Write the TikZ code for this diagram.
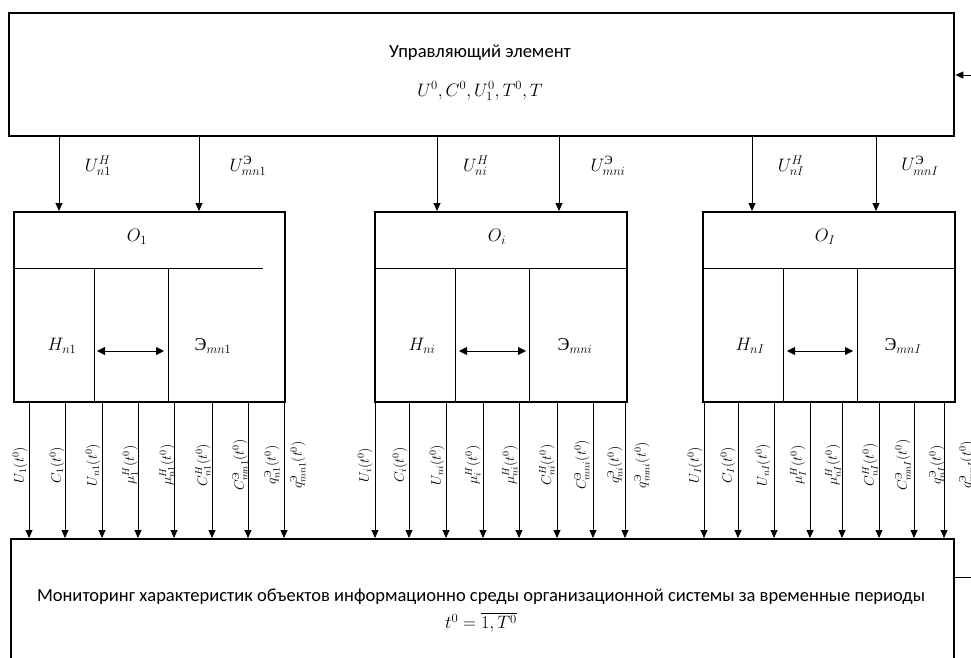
\RequirePackage{fix-cm}
\documentclass[tikz,border=0pt]{standalone}
\usepackage{amsmath}
\usepackage[no-math]{fontspec}
\setmainfont{Carlito}
\newfontfamily\cyrserif{Liberation Serif}
\usetikzlibrary{arrows.meta}
\newcommand{\Ee}{\text{\cyrserif Э}}
\tikzset{
  bigbox/.style={draw, line width=2.4pt, inner sep=0pt, anchor=north west},
  arr/.style={line width=0.9pt, -{Triangle[length=8pt,width=7pt]}},
  dbl/.style={line width=0.9pt, {Triangle[length=8pt,width=8pt]}-{Triangle[length=8pt,width=8pt]}},
  thin/.style={line width=0.9pt},
  lbl/.style={font=\fontsize{18}{21}\selectfont, inner sep=0pt},
  rlbl/.style={rotate=90, font=\fontsize{14}{16}\selectfont, inner sep=0pt},
  ttl/.style={font=\fontsize{18.6}{22}\selectfont, inner sep=0pt},
  ttlb/.style={font=\fontsize{18.5}{22}\selectfont, inner sep=0pt}
}
\begin{document}
\begin{tikzpicture}[x=1pt,y=-1pt]
\useasboundingbox (0,0) rectangle (971,658);
\clip (0,0) rectangle (971,658);

% top control element
\node[bigbox, minimum width=945, minimum height=123] (ctrl) at (8,12) {};
\node[ttl] (ctrlt) at (480,53) {Управляющий элемент};
\node[lbl] (ctrlf) at (480,91) {$U^0,C^0,U_1^0,T^0,T$};
\coordinate (fbin) at (971,75);
\draw[arr] (fbin) -- (fbin -| ctrl.east);

% object boxes
\node[bigbox, minimum width=271, minimum height=190] (o1) at (13,211) {};
\node[bigbox, minimum width=252, minimum height=190] (o2) at (374,211) {};
\node[bigbox, minimum width=252, minimum height=190] (o3) at (702,211) {};

% bottom monitoring box
\node[bigbox, minimum width=943, minimum height=170] (mon) at (10,538) {};
\node[ttlb] (mont) at (481,597) {Мониторинг характеристик объектов информационно среды организационной системы за временные периоды};
\node[lbl] (monf) at (481,622) {$t^0=\overline{1,T^0}$};
\coordinate (fbout) at (971,577);
\draw[thin] (fbout -| mon.east) -- (fbout);

% object internals
% box 1
\draw[thin] (13,268) -- (263,268);
\draw[thin] (94,268) -- (94,401);
\draw[thin] (168,268) -- (168,401);
\node[lbl] (o1t) at (137,237) {$O_1$};
\node[lbl] (h1) at (62,346) {$H_{n1}$};
\node[lbl] (e1) at (213,346) {$\Ee_{mn1}$};
\coordinate (d1a) at (97,351); \coordinate (d1b) at (164,351);
\draw[dbl] (d1a) -- (d1b);
% box 2
\draw[thin] (374,268) -- (626,268);
\draw[thin] (455,268) -- (455,401);
\draw[thin] (529,268) -- (529,401);
\node[lbl] (o2t) at (497,237) {$O_i$};
\node[lbl] (h2) at (422,346) {$H_{ni}$};
\node[lbl] (e2) at (575,346) {$\Ee_{mni}$};
\coordinate (d2a) at (459,351); \coordinate (d2b) at (526,351);
\draw[dbl] (d2a) -- (d2b);
% box 3
\draw[thin] (702,268) -- (954,268);
\draw[thin] (783,268) -- (783,401);
\draw[thin] (857,268) -- (857,401);
\node[lbl] (o3t) at (825,237) {$O_I$};
\node[lbl] (h3) at (750,346) {$H_{nI}$};
\node[lbl] (e3) at (903,346) {$\Ee_{mnI}$};
\coordinate (d3a) at (787,351); \coordinate (d3b) at (853,351);
\draw[dbl] (d3a) -- (d3b);

% control arrows
\foreach \x/\n in {59/o1,199/o1,437/o2,559/o2,752/o3,876/o3}{
  \draw[arr] (ctrl.south -| \x,0) -- (\n.north -| \x,0);
}
\node[lbl] (u1h) at (98,166) {$U_{n1}^{H}$};
\node[lbl] (u1e) at (248,166) {$U_{mn1}^{\Ee}$};
\node[lbl] (u2h) at (476,166) {$U_{ni}^{H}$};
\node[lbl] (u2e) at (608,166) {$U_{mni}^{\Ee}$};
\node[lbl] (u3h) at (791,166) {$U_{nI}^{H}$};
\node[lbl] (u3e) at (920,166) {$U_{mnI}^{\Ee}$};

% output arrows
\foreach \x in {29,65,102,138,174,212,248,284}{
  \draw[arr] (o1.south -| \x,0) -- (mon.north -| \x,0);
}
\foreach \x in {375,409,446,483,519,557,593,625}{
  \draw[arr] (o2.south -| \x,0) -- (mon.north -| \x,0);
}
\foreach \x in {704,738,774,810,842,879,914,944}{
  \draw[arr] (o3.south -| \x,0) -- (mon.north -| \x,0);
}

% output labels
\foreach \x/\t in {20/{U_1(t^0)},57/{C_1(t^0)},93/{U_{n1}(t^0)},130/{\mu_1^H(t^0)},167/{\mu_{n1}^H(t^0)},203/{C_{n1}^H(t^0)},240/{C_{mn1}^{\Ee}(t^0)},272/{q_{n1}^{\Ee}(t^0)},298/{q_{mn1}^{\Ee}(t^0)}}{
  \node[rlbl] at (\x,465) {$\t$};
}
\foreach \x/\t in {365/{U_i(t^0)},400/{C_i(t^0)},437/{U_{ni}(t^0)},473/{\mu_i^H(t^0)},510/{\mu_{ni}^H(t^0)},547/{C_{ni}^H(t^0)},582/{C_{mni}^{\Ee}(t^0)},615/{q_{ni}^{\Ee}(t^0)},642/{q_{mni}^{\Ee}(t^0)}}{
  \node[rlbl] at (\x,465) {$\t$};
}
\foreach \x/\t in {695/{U_I(t^0)},728/{C_I(t^0)},763/{U_{nI}(t^0)},798/{\mu_I^H(t^0)},833/{\mu_{nI}^H(t^0)},870/{C_{nI}^H(t^0)},903/{C_{mnI}^{\Ee}(t^0)},937/{q_{nI}^{\Ee}(t^0)},967/{q_{mnI}^{\Ee}(t^0)}}{
  \node[rlbl] at (\x,465) {$\t$};
}
\end{tikzpicture}
\end{document}
